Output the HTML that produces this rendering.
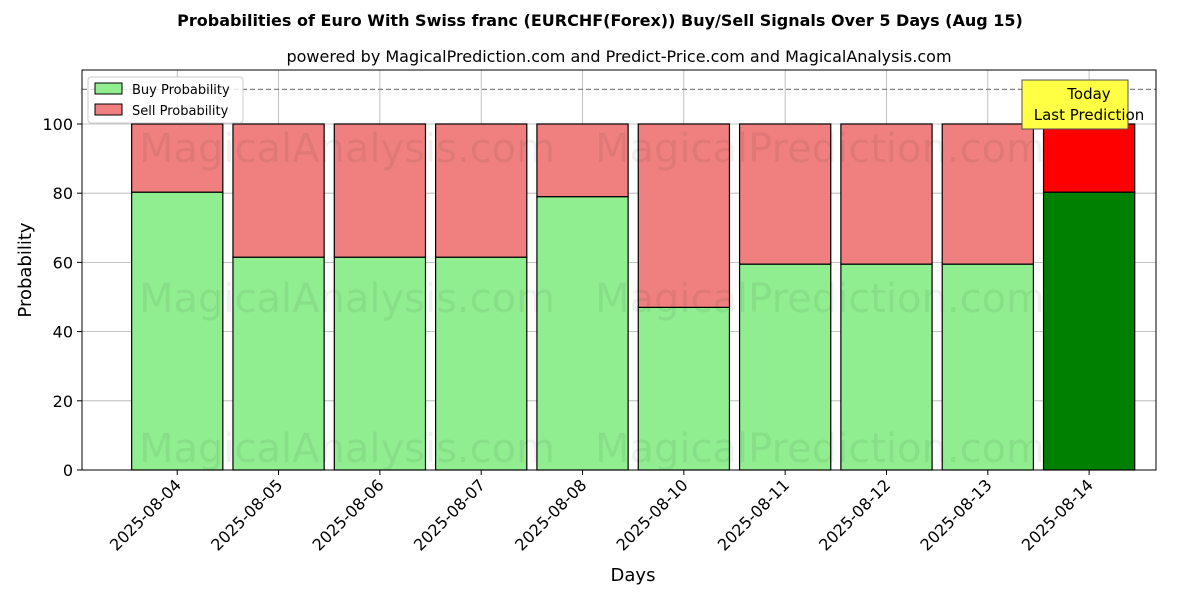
<!DOCTYPE html>
<html><head><meta charset="utf-8"><style>
body{margin:0;background:#fff;font-family:"Liberation Sans","DejaVu Sans",sans-serif;}
</style></head><body>
<svg id="chart" width="1200" height="600" xmlns="http://www.w3.org/2000/svg" font-family="DejaVu Sans, Liberation Sans, sans-serif">
<text x="600" y="26" text-anchor="middle" font-size="16" font-weight="bold">Probabilities of Euro With Swiss franc (EURCHF(Forex)) Buy/Sell Signals Over 5 Days (Aug 15)</text>
<text x="619" y="62" text-anchor="middle" font-size="16">powered by MagicalPrediction.com and Predict-Price.com and MagicalAnalysis.com</text>
<g id="grid"></g>
<g id="bars"></g>
<g font-size="40" fill="#000" fill-opacity="0.06">
<text x="347" y="162" text-anchor="middle">MagicalAnalysis.com</text>
<text x="820" y="162" text-anchor="middle">MagicalPrediction.com</text>
<text x="347" y="312" text-anchor="middle">MagicalAnalysis.com</text>
<text x="820" y="312" text-anchor="middle">MagicalPrediction.com</text>
<text x="347" y="462" text-anchor="middle">MagicalAnalysis.com</text>
<text x="820" y="462" text-anchor="middle">MagicalPrediction.com</text>
</g>
<line id="refline" x1="82" x2="1156" stroke="#808080" stroke-width="1.2" stroke-dasharray="5,3"/>
<rect x="82" y="70" width="1074" height="400" fill="none" stroke="#000" stroke-width="1"/>
<g id="ticks" font-size="16"></g>
<text x="633" y="581" text-anchor="middle" font-size="18">Days</text>
<text transform="translate(31,270) rotate(-90)" text-anchor="middle" font-size="18">Probability</text>
<g>
<rect x="88" y="77" width="155" height="46" fill="#fff" fill-opacity="0.8" stroke="#ccc" rx="3"/>
<rect x="95" y="83" width="27" height="11" fill="#90ee90" stroke="#000"/>
<text x="132" y="94" font-size="13">Buy Probability</text>
<rect x="95" y="104" width="27" height="11" fill="#f08080" stroke="#000"/>
<text x="132" y="115" font-size="13">Sell Probability</text>
</g>
<g>
<rect x="1022" y="80" width="106" height="49" fill="#ffff44" stroke="#555" stroke-width="1"/>
<text x="1089" y="99" text-anchor="middle" font-size="15">Today</text>
<text x="1089" y="120" text-anchor="middle" font-size="15">Last Prediction</text>
</g>
</svg>
<script>
const categories=["2025-08-04","2025-08-05","2025-08-06","2025-08-07","2025-08-08","2025-08-10","2025-08-11","2025-08-12","2025-08-13","2025-08-14"];
const buyValues=[80.3,61.5,61.5,61.5,79,47,59.5,59.5,59.5,80.3];
const sellValues=[19.7,38.5,38.5,38.5,21,53,40.5,40.5,40.5,19.7];
const yTicks=[0,20,40,60,80,100];
const NS="http://www.w3.org/2000/svg";
const x0=82,x1=1156,yb=470,yt=70,ymax=115.6;
const step=(x1-x0)/10.6;
function xs(i){return x0+(i+0.94)*step;}
function ys(v){return yb-(v/ymax)*(yb-yt);}
function mk(t,a,p){const e=document.createElementNS(NS,t);for(const k in a)e.setAttribute(k,a[k]);p.appendChild(e);return e;}
const grid=document.getElementById('grid'),bars=document.getElementById('bars'),ticks=document.getElementById('ticks');
const bw=step*0.9;
yTicks.forEach(v=>{
 const g=mk('line',{x1:x0,x2:x1,y1:ys(v),y2:ys(v),stroke:'#b0b0b0','stroke-width':0.8},grid);
 
 
 mk('line',{x1:x0-5,x2:x0,y1:ys(v),y2:ys(v),stroke:'#000'},ticks);
 const t=mk('text',{x:x0-9,y:ys(v)+6,'text-anchor':'end'},ticks);t.textContent=v;
 
 
});
categories.forEach((c,i)=>{
 const cx=xs(i),last=i===categories.length-1;
 const g=mk('line',{x1:cx,x2:cx,y1:yt,y2:yb,stroke:'#b0b0b0','stroke-width':0.8},grid);
 
 
 const b=mk('rect',{x:cx-bw/2,y:ys(buyValues[i]),width:bw,height:ys(0)-ys(buyValues[i]),fill:last?'#008000':'#90ee90',stroke:'#000','stroke-width':1.2},bars);
 
 
 const s=mk('rect',{x:cx-bw/2,y:ys(buyValues[i]+sellValues[i]),width:bw,height:ys(buyValues[i])-ys(buyValues[i]+sellValues[i]),fill:last?'#ff0000':'#f08080',stroke:'#000','stroke-width':1.2},bars);
 
 
 mk('line',{x1:cx,x2:cx,y1:yb,y2:yb+5,stroke:'#000'},ticks);
 const t=mk('text',{x:0,y:0,'text-anchor':'end',transform:`translate(${cx+5},${yb+16}) rotate(-45)`},ticks);t.textContent=c;
 
 
});
const rl=document.getElementById('refline');rl.setAttribute('y1',ys(110));rl.setAttribute('y2',ys(110));
</script>
</body></html>
